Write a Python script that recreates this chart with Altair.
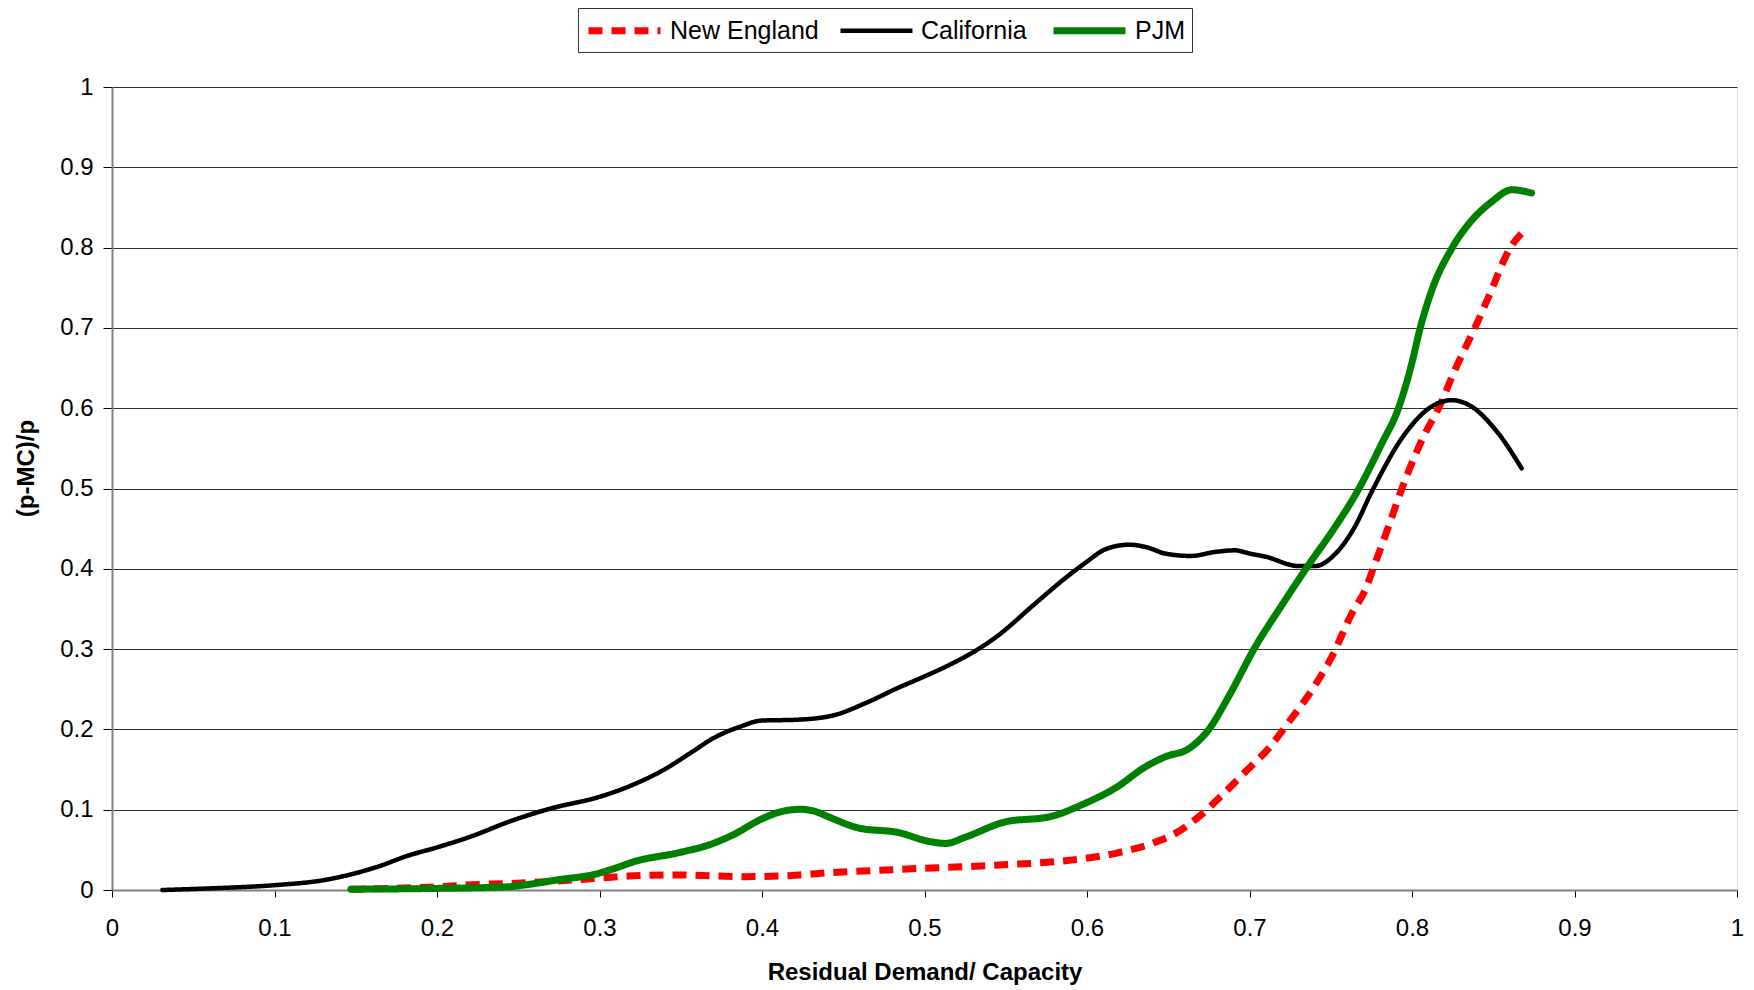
import altair as alt
import pandas as pd

# ---- data ----
series_names = ["New England", "California", "PJM"]

ca_x = [0.031, 0.06, 0.1, 0.131, 0.15, 0.165, 0.181, 0.2, 0.22, 0.247, 0.271, 0.3, 0.3205,
        0.339, 0.357, 0.37, 0.386, 0.4, 0.421, 0.443, 0.464, 0.484, 0.5, 0.515, 0.5315,
        0.546, 0.566, 0.587, 0.6, 0.611, 0.626, 0.638, 0.648, 0.664, 0.679, 0.691, 0.7,
        0.71, 0.73, 0.7405, 0.753, 0.765, 0.775, 0.796, 0.812, 0.8245, 0.835, 0.853, 0.8675]
ca_y = [0.0, 0.002, 0.006, 0.0125, 0.021, 0.030, 0.042, 0.053, 0.066, 0.087, 0.102, 0.116, 0.131,
        0.149, 0.172, 0.189, 0.203, 0.211, 0.212, 0.217, 0.233, 0.252, 0.266, 0.280, 0.298,
        0.318, 0.353, 0.389, 0.409, 0.424, 0.430, 0.426, 0.419, 0.416, 0.421, 0.423, 0.419,
        0.415, 0.4035, 0.4035, 0.419, 0.453, 0.495, 0.569, 0.602, 0.610, 0.604, 0.569, 0.525]

pjm_x = [0.147, 0.2, 0.244, 0.253, 0.2754, 0.296, 0.308, 0.3225, 0.349, 0.37, 0.382, 0.4004,
         0.4127, 0.424, 0.4332, 0.441, 0.4598, 0.4844, 0.5008, 0.513, 0.5254, 0.55, 0.5766,
         0.6, 0.6175, 0.636, 0.6483, 0.6626, 0.675, 0.6872, 0.7036, 0.72, 0.7364, 0.752,
         0.766, 0.7814, 0.7917, 0.7999, 0.805, 0.8122, 0.8245, 0.8368, 0.849, 0.8613, 0.8736]
pjm_y = [0.001, 0.002, 0.004, 0.006, 0.013, 0.019, 0.026, 0.036, 0.0465, 0.058, 0.0685, 0.089,
         0.098, 0.1005, 0.0975, 0.091, 0.077, 0.0714, 0.0614, 0.058, 0.066, 0.085, 0.091,
         0.109, 0.127, 0.1535, 0.166, 0.176, 0.200, 0.241, 0.303, 0.355, 0.405, 0.45,
         0.495, 0.556, 0.600, 0.656, 0.6995, 0.747, 0.799, 0.834, 0.857, 0.872, 0.868]

ne_x = [0.147, 0.2, 0.226, 0.244, 0.267, 0.298, 0.318, 0.349, 0.39, 0.4229, 0.431, 0.4844,
        0.5459, 0.5868, 0.6175, 0.64, 0.6544, 0.6688, 0.683, 0.6975, 0.7118, 0.7251, 0.7384,
        0.7507, 0.763, 0.7712, 0.7773, 0.7855, 0.7937, 0.8081, 0.8163, 0.8265, 0.8398, 0.847,
        0.8603, 0.8706]
ne_y = [0.001, 0.004, 0.007, 0.008, 0.0104, 0.0145, 0.0174, 0.0187, 0.0166, 0.0187, 0.020, 0.0257,
        0.0311, 0.0365, 0.0457, 0.058, 0.0705, 0.0913, 0.118, 0.1473, 0.1764, 0.2117, 0.249,
        0.2906, 0.3445, 0.3736, 0.4068, 0.4524, 0.4994, 0.5687, 0.5998, 0.648, 0.705, 0.738,
        0.7991, 0.824]

tick_values = [0, 0.1, 0.2, 0.3, 0.4, 0.5, 0.6, 0.7, 0.8, 0.9, 1]

rows = []
for name, xs, ys in [("New England", ne_x, ne_y), ("California", ca_x, ca_y), ("PJM", pjm_x, pjm_y)]:
    for xv, yv in zip(xs, ys):
        rows.append({"series": name, "x": xv, "y": yv})
df = pd.DataFrame(rows)

FONT = "Liberation Sans"
PLOT_TOP = 79

color_scale = alt.Scale(domain=series_names, range=["#FF0000", "#000000", "#008000"])
dash_scale = alt.Scale(domain=series_names, range=[[14, 9], [1, 0], [1, 0]])
width_scale = alt.Scale(type="ordinal", domain=series_names, range=[7, 4.5, 7])

legend = alt.Legend(
    title=None, orient="none", legendX=466, legendY=-PLOT_TOP, direction="horizontal",
    symbolType="M-1,0L5,0", symbolSize=576, labelFontSize=25, labelFont=FONT,
    labelColor="black", labelOffset=54, columnPadding=12, padding=7,
    strokeColor="#333333", fillColor="white", labelLimit=400,
)

x_enc = alt.X("x:Q", scale=alt.Scale(domain=[0, 1], nice=False, zero=False),
              axis=alt.Axis(values=tick_values, format="~g", grid=False,
                            title="Residual Demand/ Capacity",
                            titleFontSize=24, titleFontWeight="bold", titleFont=FONT,
                            titleColor="black", titleBaseline="alphabetic", titleY=89,
                            labelFontSize=24, labelFont=FONT, labelColor="black",
                            labelPadding=19, tickSize=7, tickColor="black",
                            domainColor="#808080", domainWidth=2, labelFlush=False))
y_enc = alt.Y("y:Q", scale=alt.Scale(domain=[0, 1], nice=False),
              axis=alt.Axis(values=tick_values, format="~g", grid=True,
                            gridColor="#303030", gridWidth=1,
                            title="(p-MC)/p", titleFontSize=24, titleFontWeight="bold",
                            titleFont=FONT, titleColor="black", titleAngle=270,
                            titleX=-86, titleY=460 - PLOT_TOP, titleBaseline="middle",
                            titleAlign="center",
                            labelFontSize=24, labelFont=FONT, labelColor="black",
                            labelPadding=10, tickSize=9, tickColor="black",
                            domainColor="#808080", domainWidth=2))

enc = dict(
    x=x_enc, y=y_enc,
    color=alt.Color("series:N", scale=color_scale, legend=legend, sort=series_names),
    strokeDash=alt.StrokeDash("series:N", scale=dash_scale, legend=legend, sort=series_names),
    strokeWidth=alt.StrokeWidth("series:N", scale=width_scale, legend=legend, sort=series_names),
    order=alt.Order("x:Q"),
)

base = alt.Chart(df)
layers = []
for name in series_names:
    cap = "butt" if name == "New England" else "round"
    layers.append(
        base.transform_filter(alt.datum.series == name)
        .mark_line(interpolate="monotone", strokeCap=cap, strokeJoin="round")
        .encode(**enc)
    )

chart = alt.layer(*layers).properties(
    width=1625, height=803,
    autosize=alt.AutoSizeParams(type="none"),
    padding={"left": 104, "top": PLOT_TOP, "right": 8, "bottom": 96},
).configure_view(stroke=None).configure(background="white")

chart.save("out.html", embed_options={"renderer": "svg", "actions": False})
